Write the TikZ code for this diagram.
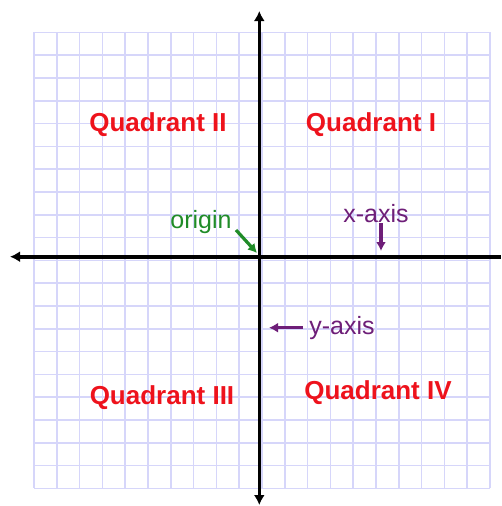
\documentclass[tikz,border=0pt]{standalone}
\usepackage{fontspec}
\setmainfont{Liberation Sans}
\usetikzlibrary{arrows.meta}

\definecolor{gridblue}{RGB}{214,214,250}
\definecolor{quadred}{RGB}{238,18,28}
\definecolor{origgreen}{RGB}{32,140,40}
\definecolor{axpurple}{RGB}{110,30,120}

\begin{document}
\begin{tikzpicture}[
  x=1pt,
  y=-1pt,
  gridline/.style={draw=gridblue, line width=1.6pt},
  axis/.style={line width=3.6pt, >={Latex[length=10pt,width=11pt]}},
  quad/.style={text=quadred, inner sep=0pt, font=\fontsize{26}{30}\selectfont\bfseries},
  lbl/.style={inner sep=0pt, font=\fontsize{25}{30}\selectfont},
  ptr/.style={line width=3.2pt, -{Latex[length=9pt,width=10pt]}}
]
\useasboundingbox (0,0) rectangle (501,506);
\fill[white] (0,0) rectangle (501,506);

% Grila
\foreach \i in {0,...,20} {
  \draw[gridline] ({34+22.8*\i},32.3) -- ++(0,456);
  \draw[gridline] (34,{32.3+22.8*\i}) -- ++(456,0);
}

% Axe
\coordinate (yTop) at (259.3,11);
\coordinate (yBot) at (259.3,505);
\coordinate (xLeft) at (10,256.7);
\coordinate (xRight) at (501,256.7);
\draw[axis, <->] (yBot) -- (yTop);
\draw[axis, <-] (xLeft) -- (xRight);

% Cadrane
\node[quad] (quadI) at (371,125) {Quadrant I};
\node[quad] (quadII) at (158,125) {Quadrant II};
\node[quad] (quadIII) at (162,398) {Quadrant III};
\node[quad] (quadIV) at (378,393) {Quadrant IV};

% Etichete
\node[lbl, text=origgreen] (origin) at (201,222) {origin};
\node[lbl, text=axpurple] (xlab) at (376,214) {x-axis};
\node[lbl, text=axpurple] (ylab) at (342,328) {y-axis};

\coordinate (oTail) at (236,230);
\coordinate (oTip) at (257,253);
\coordinate (xTip) at (381,251);
\coordinate (yTip) at (269,327.7);

% Săgeți
\draw[ptr, origgreen] (oTail) -- (oTip);
\draw[ptr, axpurple] (xlab.south -| xTip) -- (xTip);
\draw[ptr, axpurple] ([xshift=-6pt]ylab.west |- yTip) -- (yTip);

\end{tikzpicture}
\end{document}
